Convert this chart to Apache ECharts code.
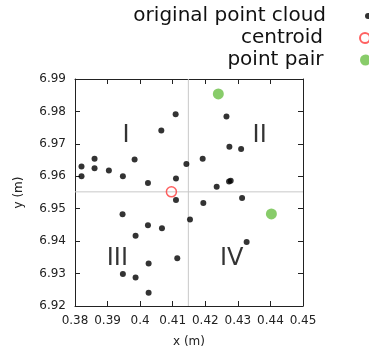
<!DOCTYPE html>
<html><head><meta charset="utf-8">
<script src="https://cdn.jsdelivr.net/npm/echarts@6/dist/echarts.min.js"></script>
<style>html,body{margin:0;padding:0;background:#fff}#c{width:369px;height:353px}</style>
</head><body><div id="c"></div>
<script>
const cloudX = [0.4109,0.4065,0.3860,0.3820,0.3820,0.3860,0.3904,0.3947,0.3983,0.4024,0.4110,0.4142,
  0.4265,0.4274,0.4310,0.4192,0.4235,0.4273,0.4278,
  0.4110,0.3946,0.4153,0.4024,0.4067,0.3986,0.4114,0.4026,0.3947,0.3986,0.4026,
  0.4313,0.4194,0.4327];
const cloudY = [6.9791,6.9741,6.9654,6.9630,6.9600,6.9625,6.9618,6.9600,6.9652,6.9579,6.9593,6.9638,
  6.9784,6.9691,6.9684,6.9654,6.9568,6.9584,6.9586,
  6.9527,6.9483,6.9467,6.9449,6.9440,6.9417,6.9347,6.9331,6.9299,6.9288,6.9241,
  6.9533,6.9518,6.9397];
const centroidX = [0.4096];
const centroidY = [6.9552];
const pairX = [0.4240, 0.4403];
const pairY = [6.9854, 6.9484];
const crossX = 0.4148;
const crossY = 6.9552;
const quadNames = ['I','II','III','IV'];
const quadX = [0.3957, 0.4367, 0.3930, 0.4281];
const quadY = [6.9724, 6.9724, 6.9345, 6.9345];
const legendNames = ['original point cloud','centroid','point pair'];
const xMin = 0.38, xMax = 0.45, xStep = 0.01;
const yMin = 6.92, yMax = 6.99, yStep = 0.01;

const zip = (a,b) => a.map((v,i)=>[v,b[i]]);
const F = 'DejaVu Sans';
const axisCommon = {
  axisLine:{show:true,lineStyle:{color:'#222',width:1}},
  axisTick:{show:true,inside:true,length:5,lineStyle:{color:'#222'}},
  splitLine:{show:false}
};
const chart = echarts.init(document.getElementById('c'));
const legendCfg = (name, size, top) => ({
  data:[name], top: top, right: -2, align:'right', orient:'vertical',
  itemWidth: 74, itemHeight: size, padding: 0, selectedMode:false,
  textStyle:{fontFamily:F, fontSize:20, color:'#111'}
});
const crossLine = (data) => ({type:'line', data:data, symbol:'none', silent:true,
  lineStyle:{color:'#c8c8c8', width:1}, z:1});
chart.setOption({
  animation:false,
  grid:{left:75, right:66, top:79, bottom:47},
  legend:[legendCfg(legendNames[0],6,6), legendCfg(legendNames[1],10,28), legendCfg(legendNames[2],11,50)],
  xAxis:[
    Object.assign({type:'value', min:xMin, max:xMax, interval:xStep, position:'bottom',
      name:'x (m)', nameLocation:'middle', nameGap:30,
      nameTextStyle:{fontFamily:F,fontSize:12,color:'#222'},
      axisLabel:{fontFamily:F,fontSize:12,color:'#222',margin:9,formatter:v=>String(+v.toFixed(2))}}, axisCommon),
    Object.assign({type:'value', min:xMin, max:xMax, interval:xStep, position:'top', axisLabel:{show:false}}, axisCommon)
  ],
  yAxis:[
    Object.assign({type:'value', min:yMin, max:yMax, interval:yStep, position:'left',
      name:'y (m)', nameLocation:'middle', nameGap:50, nameRotate:90,
      nameTextStyle:{fontFamily:F,fontSize:12,color:'#222'},
      axisLabel:{fontFamily:F,fontSize:12,color:'#222',margin:9,formatter:v=>v.toFixed(2)}}, axisCommon),
    Object.assign({type:'value', min:yMin, max:yMax, interval:yStep, position:'right', axisLabel:{show:false}}, axisCommon)
  ],
  series:[
    crossLine([[crossX,yMin],[crossX,yMax]]),
    crossLine([[xMin,crossY],[xMax,crossY]]),
    {name:legendNames[0], type:'scatter', data:zip(cloudX,cloudY), symbolSize:6,
      itemStyle:{color:'#000'}, z:3},
    {name:legendNames[1], type:'scatter', data:zip(centroidX,centroidY), symbolSize:10,
      itemStyle:{color:'rgba(255,255,255,0)', borderColor:'#ff3a3a', borderWidth:1.5}, z:4},
    {name:legendNames[2], type:'scatter', data:zip(pairX,pairY), symbolSize:11,
      itemStyle:{color:'#6abf45'}, z:4},
    {name:'quadrants', type:'scatter', data:quadNames.map((n,i)=>({name:n,value:[quadX[i],quadY[i]]})),
      symbolSize:1, itemStyle:{color:'rgba(0,0,0,0)'}, silent:true,
      label:{show:true, position:'inside', formatter:p=>p.name, fontFamily:F, fontSize:24, color:'#000'}}
  ]
});
</script></body></html>
